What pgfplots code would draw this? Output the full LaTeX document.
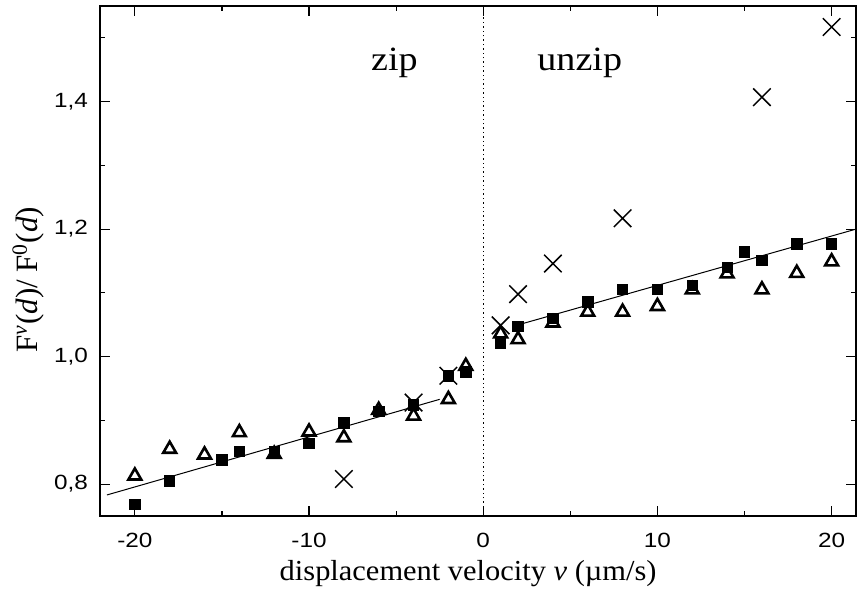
\documentclass[border=0pt]{standalone}
\usepackage{pgfplots}
\pgfplotsset{compat=1.18}
\usepackage{fontspec}
\setmainfont{Liberation Serif}
\newfontfamily\arialf[FakeStretch=1.18]{Liberation Sans}
\newfontfamily\labelf[FakeStretch=1.05]{Liberation Serif}
\newfontfamily\zipf[FakeStretch=1.12]{Liberation Serif}

\pgfplotstableread{
x y
-20 0.768
-18 0.805
-15 0.838
-14 0.851
-12 0.851
-10 0.864
-8 0.896
-6 0.914
-4 0.924
-2 0.970
-1 0.976
1 1.021
2 1.047
4 1.060
6 1.086
8 1.105
10 1.105
12 1.112
14 1.140
15 1.164
16 1.151
18 1.177
20 1.177
}\squares

\pgfplotstableread{
x y
-20 0.813
-18 0.855
-16 0.846
-14 0.881
-12 0.847
-10 0.882
-8 0.873
-6 0.916
-4 0.907
-2 0.933
-1 0.985
1 1.036
2 1.027
4 1.053
6 1.070
8 1.070
10 1.079
12 1.105
14 1.130
16 1.105
18 1.131
20 1.149
}\triangles

\pgfplotstableread{
x y
-8 0.808
-4 0.928
-2 0.970
1 1.049
2 1.098
4 1.146
8 1.217
16 1.407
20 1.517
}\crosses

\begin{document}
\begin{tikzpicture}
\begin{axis}[
 scale only axis, width=378pt, height=255pt,
 xmin=-22, xmax=21.4, ymin=0.75, ymax=1.55,
 xtick={-20,-10,0,10,20}, xticklabels={-20,-10,0,10,20},
 minor xtick={-15,-5,5,15},
 ytick={0.8,1.0,1.2,1.4}, yticklabels={{0,8},{1,0},{1,2},{1,4}},
 minor ytick={0.9,1.1,1.3,1.5},
 tick align=inside,
 major tick length=5pt, minor tick length=2.5pt,
 tick style={black, line width=0.6pt},
 axis line style={line width=0.9pt},
 ticklabel style={font=\arialf\fontsize{10.3}{12}\selectfont},
 xticklabel style={yshift=-5pt},
 yticklabel style={xshift=-2.5pt},
 xlabel={displacement velocity \textit{v} (µm/s)},
 ylabel={F\textsuperscript{\textit{v}}(\textit{d})/ F\textsuperscript{0}(\textit{d})},
 xlabel style={font=\labelf\fontsize{14.5}{17}\selectfont, at={(axis description cs:0.487,0)}, anchor=base, yshift=-32.5pt},
 ylabel style={font=\fontsize{15.5}{17}\selectfont, at={(axis description cs:-0.095,0.463)}, anchor=center},
]
\coordinate (sw) at (rel axis cs:0,0);
\coordinate (ne) at (rel axis cs:1,1);
\addplot[black, line width=0.6pt, dash pattern=on 0.7pt off 1.5pt] coordinates {(0,0.75) (0,1.55)};
\addplot[black, line width=0.5pt] coordinates {(-21.6,0.783) (-2.5,0.933)};
\addplot[black, line width=0.5pt] coordinates {(1.9,1.049) (21.4,1.200)};
\addplot[only marks, mark=square*, mark size=2.6pt, black] table {\squares};
\addplot[only marks, mark=triangle, mark size=3.7pt, black, mark options={line width=1.3pt, fill=none}] table {\triangles};
\addplot[only marks, mark=x, mark size=6.2pt, black, mark options={line width=0.75pt}] table {\crosses};
\node[anchor=base, font=\zipf\fontsize{17}{20}\selectfont] at (axis cs:-5.1,1.449) {zip};
\node[anchor=base, font=\zipf\fontsize{17}{20}\selectfont] at (axis cs:5.54,1.449) {unzip};
\end{axis}
\pgfresetboundingbox
\path ([shift={(-50pt,-38pt)}]sw) rectangle ([shift={(0.5pt,3pt)}]ne);
\end{tikzpicture}
\end{document}
